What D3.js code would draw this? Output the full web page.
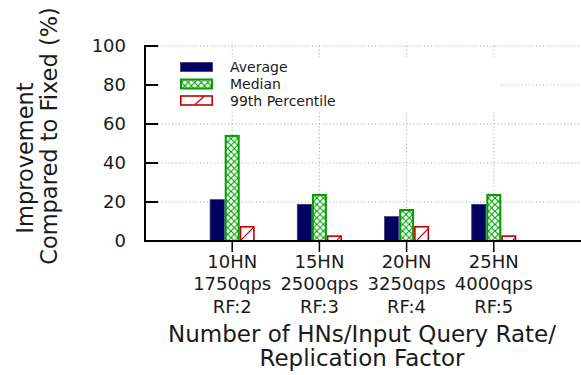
<!DOCTYPE html>
<html><head><meta charset="utf-8">
<script src="https://cdn.jsdelivr.net/npm/d3@7"></script>
<style>
html,body{margin:0;padding:0;background:#fff;}
text{font-family:"DejaVu Sans",sans-serif;fill:#1a1a1a;}
</style></head>
<body><svg id="chart" width="581" height="375"></svg>
<script>
const categories = [
  ["10HN","1750qps","RF:2"],
  ["15HN","2500qps","RF:3"],
  ["20HN","3250qps","RF:4"],
  ["25HN","4000qps","RF:5"]
];
const seriesNames = ["Average","Median","99th Percentile"];
const average = [21.4, 19.0, 12.7, 19.0];
const median = [54.4, 24.1, 16.4, 24.1];
const p99 = [7.7, 2.9, 7.7, 2.9];
const yTicks = [0,20,40,60,80,100];

const svg = d3.select("#chart");
const x = d3.scaleLinear().domain([0,5]).range([145,581]);
const y = d3.scaleLinear().domain([0,100]).range([241,46]);
const bw = 0.172;

const defs = svg.append("defs");
const cross = defs.append("pattern").attr("id","cross").attr("patternUnits","userSpaceOnUse")
  .attr("width",6.6).attr("height",6.6);
cross.append("rect").attr("width",6.6).attr("height",6.6).attr("fill","#fff");
cross.append("path").attr("d","M0,0L6.6,6.6M6.6,0L0,6.6").attr("stroke","#00a000").attr("stroke-width",1.1);
const diag = defs.append("pattern").attr("id","diag").attr("patternUnits","userSpaceOnUse")
  .attr("x",1).attr("width",16).attr("height",16);
diag.append("rect").attr("width",16).attr("height",16).attr("fill","#fff");
diag.append("path").attr("d","M-1,17L17,-1").attr("stroke","#c00000").attr("stroke-width",1.2);

// grid
const g = svg.append("g");
g.selectAll("line.hg").data(yTicks.filter(d=>d>0)).join("line")
  .attr("x1",158).attr("x2",581).attr("y1",d=>y(d)).attr("y2",d=>y(d))
  .attr("stroke","#a0a0a0").attr("stroke-dasharray","1,2.5");
g.selectAll("line.vg").data(categories).join("line")
  .attr("x1",(d,i)=>x(i+1)).attr("x2",(d,i)=>x(i+1)).attr("y1",y(100)).attr("y2",y(0))
  .attr("stroke","#a0a0a0").attr("stroke-dasharray","1,2.5");

// legend background
svg.append("rect").attr("x",159).attr("y",57).attr("width",342).attr("height",55).attr("fill","#fff");

// bars
const series = [
  {name:seriesNames[0], vals:average, fill:"#000060", stroke:"#3a3a80", sw:0.8},
  {name:seriesNames[1], vals:median, fill:"url(#cross)", stroke:"#00a000", sw:2},
  {name:seriesNames[2], vals:p99, fill:"url(#diag)", stroke:"#c00000", sw:1.6}
];
series.forEach((s,k)=>{
  svg.append("g").selectAll("rect").data(s.vals).join("rect")
    .attr("x",(d,i)=>x(i+1+(k-1.5)*bw)+s.sw/2)
    .attr("width",x(bw)-x(0)-s.sw)
    .attr("y",d=>y(d)+s.sw/2)
    .attr("height",d=>y(0)-y(d)-s.sw/2)
    .attr("fill",s.fill).attr("stroke",s.stroke).attr("stroke-width",s.sw);
});

// axes
svg.append("line").attr("x1",145).attr("x2",581).attr("y1",y(0)).attr("y2",y(0)).attr("stroke","#000").attr("stroke-width",2);
svg.append("line").attr("x1",145).attr("x2",145).attr("y1",y(100)-1).attr("y2",y(0)+1).attr("stroke","#000").attr("stroke-width",2);
svg.selectAll("line.yt").data(yTicks).join("line")
  .attr("x1",145).attr("x2",158).attr("y1",d=>y(d)).attr("y2",d=>y(d)).attr("stroke","#000").attr("stroke-width",2);
svg.selectAll("text.yl").data(yTicks).join("text")
  .attr("x",126).attr("y",d=>y(d)).attr("dy","0.36em").attr("text-anchor","end")
  .attr("font-size",18).text(d=>d);
svg.selectAll("line.xt").data(categories).join("line")
  .attr("x1",(d,i)=>x(i+1)).attr("x2",(d,i)=>x(i+1)).attr("y1",y(0)).attr("y2",y(0)+11)
  .attr("stroke","#000").attr("stroke-width",1.5);
categories.forEach((c,i)=>{
  c.forEach((t,j)=>{
    svg.append("text").attr("x",x(i+1)).attr("y",268+j*22.3).attr("text-anchor","middle")
      .attr("font-size",18).text(t);
  });
});

// axis titles
svg.append("text").attr("x",362).attr("y",342).attr("text-anchor","middle").attr("font-size",23)
  .text("Number of HNs/Input Query Rate/");
svg.append("text").attr("x",362).attr("y",366).attr("text-anchor","middle").attr("font-size",23)
  .text("Replication Factor");
svg.append("text").attr("transform","translate(33,158) rotate(-90)").attr("text-anchor","middle").attr("font-size",22.5)
  .text("Improvement");
svg.append("text").attr("transform","translate(57,136) rotate(-90)").attr("text-anchor","middle").attr("font-size",22.5)
  .text("Compared to Fixed (%)");

// legend
const ly = [67,84,100.5];
series.forEach((s,k)=>{
  svg.append("rect").attr("x",180+s.sw/2).attr("y",ly[k]-4.5).attr("width",33-s.sw).attr("height",9)
    .attr("fill",k===2?"#fff":s.fill).attr("stroke",s.stroke).attr("stroke-width",s.sw);
  if(k===2) svg.append("line").attr("x1",195).attr("y1",ly[k]+4).attr("x2",204).attr("y2",ly[k]-4)
    .attr("stroke",s.stroke).attr("stroke-width",1.2);
  svg.append("text").attr("x",230).attr("y",ly[k]).attr("dy","0.36em").attr("font-size",14).text(s.name);
});
</script></body></html>
